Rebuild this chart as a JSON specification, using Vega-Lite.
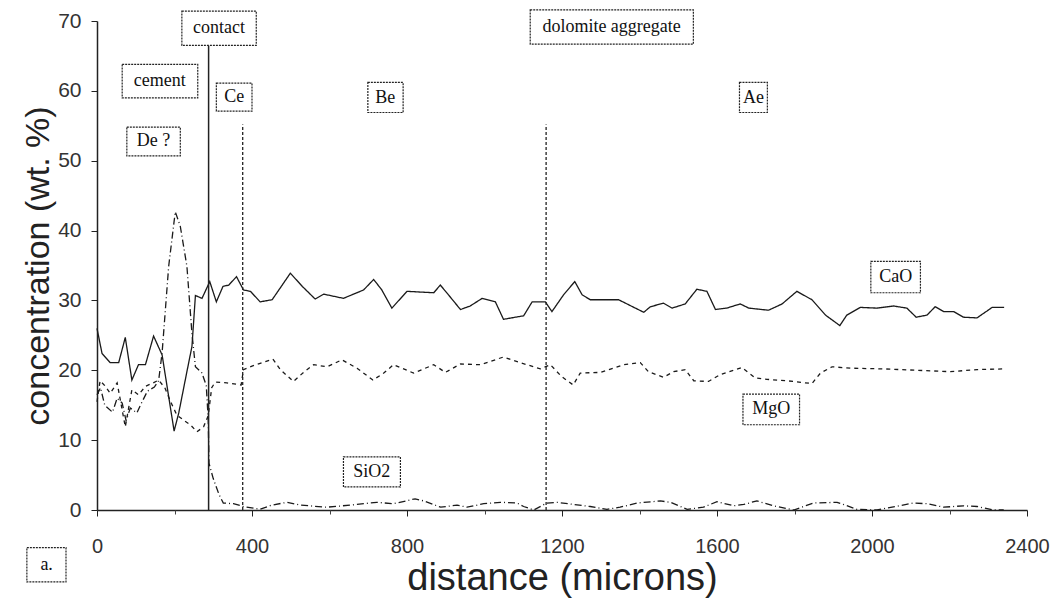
{
  "$schema": "https://vega.github.io/schema/vega-lite/v6.json",
  "width": 930,
  "height": 489,
  "autosize": {"type": "none"},
  "padding": {"left": 97, "top": 21, "right": 31, "bottom": 98},
  "background": "white",
  "config": {"view": {"stroke": null}, "font": "Liberation Sans"},
  "datasets": {
    "profiles": [
      {"oxide": "CaO", "d": 0, "c": 26.0}, {"oxide": "CaO", "d": 13, "c": 22.4}, {"oxide": "CaO", "d": 34, "c": 21.1}, {"oxide": "CaO", "d": 56, "c": 21.1}, {"oxide": "CaO", "d": 73, "c": 24.7}, {"oxide": "CaO", "d": 90, "c": 18.6}, {"oxide": "CaO", "d": 107, "c": 20.8}, {"oxide": "CaO", "d": 125, "c": 20.8}, {"oxide": "CaO", "d": 146, "c": 24.9}, {"oxide": "CaO", "d": 168, "c": 22.2}, {"oxide": "CaO", "d": 199, "c": 11.3}, {"oxide": "CaO", "d": 211, "c": 13.9}, {"oxide": "CaO", "d": 232, "c": 19.8}, {"oxide": "CaO", "d": 245, "c": 23.4}, {"oxide": "CaO", "d": 254, "c": 30.7}, {"oxide": "CaO", "d": 271, "c": 30.3}, {"oxide": "CaO", "d": 291, "c": 32.7}, {"oxide": "CaO", "d": 308, "c": 29.8}, {"oxide": "CaO", "d": 325, "c": 32.0}, {"oxide": "CaO", "d": 340, "c": 32.2}, {"oxide": "CaO", "d": 360, "c": 33.4}, {"oxide": "CaO", "d": 378, "c": 31.5}, {"oxide": "CaO", "d": 396, "c": 31.3}, {"oxide": "CaO", "d": 421, "c": 29.8}, {"oxide": "CaO", "d": 452, "c": 30.1}, {"oxide": "CaO", "d": 499, "c": 33.9}, {"oxide": "CaO", "d": 530, "c": 32.0}, {"oxide": "CaO", "d": 563, "c": 30.2}, {"oxide": "CaO", "d": 585, "c": 30.9}, {"oxide": "CaO", "d": 636, "c": 30.3}, {"oxide": "CaO", "d": 688, "c": 31.5}, {"oxide": "CaO", "d": 714, "c": 33.0}, {"oxide": "CaO", "d": 735, "c": 31.5}, {"oxide": "CaO", "d": 761, "c": 28.9}, {"oxide": "CaO", "d": 800, "c": 31.3}, {"oxide": "CaO", "d": 869, "c": 31.1}, {"oxide": "CaO", "d": 886, "c": 32.2}, {"oxide": "CaO", "d": 907, "c": 30.8}, {"oxide": "CaO", "d": 938, "c": 28.7}, {"oxide": "CaO", "d": 963, "c": 29.2}, {"oxide": "CaO", "d": 994, "c": 30.3}, {"oxide": "CaO", "d": 1028, "c": 29.8}, {"oxide": "CaO", "d": 1049, "c": 27.3}, {"oxide": "CaO", "d": 1101, "c": 27.8}, {"oxide": "CaO", "d": 1123, "c": 29.8}, {"oxide": "CaO", "d": 1157, "c": 29.8}, {"oxide": "CaO", "d": 1174, "c": 28.4}, {"oxide": "CaO", "d": 1204, "c": 30.8}, {"oxide": "CaO", "d": 1233, "c": 32.7}, {"oxide": "CaO", "d": 1252, "c": 30.8}, {"oxide": "CaO", "d": 1273, "c": 30.1}, {"oxide": "CaO", "d": 1346, "c": 30.1}, {"oxide": "CaO", "d": 1411, "c": 28.3}, {"oxide": "CaO", "d": 1428, "c": 29.1}, {"oxide": "CaO", "d": 1462, "c": 29.6}, {"oxide": "CaO", "d": 1484, "c": 28.9}, {"oxide": "CaO", "d": 1518, "c": 29.5}, {"oxide": "CaO", "d": 1548, "c": 31.6}, {"oxide": "CaO", "d": 1574, "c": 31.3}, {"oxide": "CaO", "d": 1596, "c": 28.7}, {"oxide": "CaO", "d": 1625, "c": 28.9}, {"oxide": "CaO", "d": 1660, "c": 29.5}, {"oxide": "CaO", "d": 1682, "c": 28.9}, {"oxide": "CaO", "d": 1733, "c": 28.6}, {"oxide": "CaO", "d": 1768, "c": 29.5}, {"oxide": "CaO", "d": 1806, "c": 31.3}, {"oxide": "CaO", "d": 1845, "c": 30.1}, {"oxide": "CaO", "d": 1880, "c": 27.9}, {"oxide": "CaO", "d": 1917, "c": 26.4}, {"oxide": "CaO", "d": 1935, "c": 27.9}, {"oxide": "CaO", "d": 1970, "c": 29.0}, {"oxide": "CaO", "d": 2013, "c": 28.9}, {"oxide": "CaO", "d": 2056, "c": 29.2}, {"oxide": "CaO", "d": 2090, "c": 28.9}, {"oxide": "CaO", "d": 2114, "c": 27.6}, {"oxide": "CaO", "d": 2142, "c": 27.9}, {"oxide": "CaO", "d": 2163, "c": 29.1}, {"oxide": "CaO", "d": 2185, "c": 28.4}, {"oxide": "CaO", "d": 2211, "c": 28.4}, {"oxide": "CaO", "d": 2236, "c": 27.6}, {"oxide": "CaO", "d": 2271, "c": 27.5}, {"oxide": "CaO", "d": 2310, "c": 29.0}, {"oxide": "CaO", "d": 2341, "c": 29.0},

      {"oxide": "MgO", "d": 0, "c": 15.5}, {"oxide": "MgO", "d": 8, "c": 18.5}, {"oxide": "MgO", "d": 20, "c": 17.8}, {"oxide": "MgO", "d": 34, "c": 16.7}, {"oxide": "MgO", "d": 52, "c": 18.2}, {"oxide": "MgO", "d": 73, "c": 11.9}, {"oxide": "MgO", "d": 90, "c": 17.2}, {"oxide": "MgO", "d": 107, "c": 16.5}, {"oxide": "MgO", "d": 125, "c": 17.7}, {"oxide": "MgO", "d": 145, "c": 18.2}, {"oxide": "MgO", "d": 159, "c": 18.6}, {"oxide": "MgO", "d": 175, "c": 17.5}, {"oxide": "MgO", "d": 190, "c": 15.5}, {"oxide": "MgO", "d": 206, "c": 13.6}, {"oxide": "MgO", "d": 225, "c": 12.8}, {"oxide": "MgO", "d": 241, "c": 12.2}, {"oxide": "MgO", "d": 258, "c": 11.2}, {"oxide": "MgO", "d": 275, "c": 11.9}, {"oxide": "MgO", "d": 287, "c": 13.5}, {"oxide": "MgO", "d": 296, "c": 17.5}, {"oxide": "MgO", "d": 305, "c": 18.3}, {"oxide": "MgO", "d": 335, "c": 18.2}, {"oxide": "MgO", "d": 372, "c": 17.9}, {"oxide": "MgO", "d": 378, "c": 20.1}, {"oxide": "MgO", "d": 400, "c": 20.6}, {"oxide": "MgO", "d": 421, "c": 21.0}, {"oxide": "MgO", "d": 454, "c": 21.6}, {"oxide": "MgO", "d": 473, "c": 20.1}, {"oxide": "MgO", "d": 507, "c": 18.4}, {"oxide": "MgO", "d": 535, "c": 19.8}, {"oxide": "MgO", "d": 559, "c": 20.8}, {"oxide": "MgO", "d": 594, "c": 20.5}, {"oxide": "MgO", "d": 632, "c": 21.5}, {"oxide": "MgO", "d": 671, "c": 20.3}, {"oxide": "MgO", "d": 712, "c": 18.6}, {"oxide": "MgO", "d": 740, "c": 19.6}, {"oxide": "MgO", "d": 765, "c": 20.8}, {"oxide": "MgO", "d": 817, "c": 19.6}, {"oxide": "MgO", "d": 869, "c": 20.8}, {"oxide": "MgO", "d": 899, "c": 19.7}, {"oxide": "MgO", "d": 938, "c": 20.9}, {"oxide": "MgO", "d": 989, "c": 20.8}, {"oxide": "MgO", "d": 1049, "c": 21.9}, {"oxide": "MgO", "d": 1092, "c": 21.1}, {"oxide": "MgO", "d": 1144, "c": 20.2}, {"oxide": "MgO", "d": 1170, "c": 20.8}, {"oxide": "MgO", "d": 1199, "c": 19.1}, {"oxide": "MgO", "d": 1229, "c": 17.9}, {"oxide": "MgO", "d": 1247, "c": 19.6}, {"oxide": "MgO", "d": 1299, "c": 19.7}, {"oxide": "MgO", "d": 1359, "c": 20.8}, {"oxide": "MgO", "d": 1402, "c": 21.1}, {"oxide": "MgO", "d": 1423, "c": 19.8}, {"oxide": "MgO", "d": 1462, "c": 19.0}, {"oxide": "MgO", "d": 1488, "c": 19.8}, {"oxide": "MgO", "d": 1518, "c": 20.1}, {"oxide": "MgO", "d": 1540, "c": 18.5}, {"oxide": "MgO", "d": 1578, "c": 18.4}, {"oxide": "MgO", "d": 1609, "c": 19.4}, {"oxide": "MgO", "d": 1664, "c": 20.4}, {"oxide": "MgO", "d": 1699, "c": 18.9}, {"oxide": "MgO", "d": 1729, "c": 18.7}, {"oxide": "MgO", "d": 1781, "c": 18.5}, {"oxide": "MgO", "d": 1845, "c": 18.1}, {"oxide": "MgO", "d": 1867, "c": 19.6}, {"oxide": "MgO", "d": 1897, "c": 20.5}, {"oxide": "MgO", "d": 1944, "c": 20.3}, {"oxide": "MgO", "d": 2030, "c": 20.2}, {"oxide": "MgO", "d": 2116, "c": 20.0}, {"oxide": "MgO", "d": 2202, "c": 19.8}, {"oxide": "MgO", "d": 2271, "c": 20.1}, {"oxide": "MgO", "d": 2340, "c": 20.2},

      {"oxide": "SiO2", "d": 0, "c": 16.5}, {"oxide": "SiO2", "d": 9, "c": 17.5}, {"oxide": "SiO2", "d": 20, "c": 15.0}, {"oxide": "SiO2", "d": 40, "c": 14.0}, {"oxide": "SiO2", "d": 52, "c": 16.0}, {"oxide": "SiO2", "d": 65, "c": 15.3}, {"oxide": "SiO2", "d": 75, "c": 12.8}, {"oxide": "SiO2", "d": 86, "c": 14.6}, {"oxide": "SiO2", "d": 103, "c": 13.9}, {"oxide": "SiO2", "d": 112, "c": 15.0}, {"oxide": "SiO2", "d": 130, "c": 17.0}, {"oxide": "SiO2", "d": 148, "c": 17.6}, {"oxide": "SiO2", "d": 159, "c": 18.5}, {"oxide": "SiO2", "d": 168, "c": 22.5}, {"oxide": "SiO2", "d": 185, "c": 34.9}, {"oxide": "SiO2", "d": 202, "c": 42.7}, {"oxide": "SiO2", "d": 215, "c": 40.6}, {"oxide": "SiO2", "d": 232, "c": 34.9}, {"oxide": "SiO2", "d": 245, "c": 25.3}, {"oxide": "SiO2", "d": 254, "c": 20.5}, {"oxide": "SiO2", "d": 271, "c": 19.6}, {"oxide": "SiO2", "d": 282, "c": 17.8}, {"oxide": "SiO2", "d": 287, "c": 13.0}, {"oxide": "SiO2", "d": 289, "c": 6.7}, {"oxide": "SiO2", "d": 300, "c": 4.5}, {"oxide": "SiO2", "d": 315, "c": 2.2}, {"oxide": "SiO2", "d": 326, "c": 1.0}, {"oxide": "SiO2", "d": 352, "c": 0.9}, {"oxide": "SiO2", "d": 378, "c": 0.5}, {"oxide": "SiO2", "d": 421, "c": 0.1}, {"oxide": "SiO2", "d": 451, "c": 0.7}, {"oxide": "SiO2", "d": 490, "c": 1.1}, {"oxide": "SiO2", "d": 525, "c": 0.7}, {"oxide": "SiO2", "d": 593, "c": 0.4}, {"oxide": "SiO2", "d": 654, "c": 0.7}, {"oxide": "SiO2", "d": 722, "c": 1.1}, {"oxide": "SiO2", "d": 765, "c": 0.9}, {"oxide": "SiO2", "d": 821, "c": 1.6}, {"oxide": "SiO2", "d": 843, "c": 1.3}, {"oxide": "SiO2", "d": 887, "c": 0.4}, {"oxide": "SiO2", "d": 929, "c": 0.7}, {"oxide": "SiO2", "d": 955, "c": 0.4}, {"oxide": "SiO2", "d": 998, "c": 0.9}, {"oxide": "SiO2", "d": 1041, "c": 1.1}, {"oxide": "SiO2", "d": 1084, "c": 1.0}, {"oxide": "SiO2", "d": 1101, "c": 0.5}, {"oxide": "SiO2", "d": 1127, "c": 0.0}, {"oxide": "SiO2", "d": 1161, "c": 1.0}, {"oxide": "SiO2", "d": 1187, "c": 1.1}, {"oxide": "SiO2", "d": 1230, "c": 0.8}, {"oxide": "SiO2", "d": 1273, "c": 0.5}, {"oxide": "SiO2", "d": 1316, "c": 0.1}, {"oxide": "SiO2", "d": 1350, "c": 0.4}, {"oxide": "SiO2", "d": 1394, "c": 1.0}, {"oxide": "SiO2", "d": 1454, "c": 1.3}, {"oxide": "SiO2", "d": 1480, "c": 1.1}, {"oxide": "SiO2", "d": 1523, "c": 0.1}, {"oxide": "SiO2", "d": 1565, "c": 0.4}, {"oxide": "SiO2", "d": 1600, "c": 1.2}, {"oxide": "SiO2", "d": 1643, "c": 0.6}, {"oxide": "SiO2", "d": 1669, "c": 0.8}, {"oxide": "SiO2", "d": 1703, "c": 1.3}, {"oxide": "SiO2", "d": 1746, "c": 0.6}, {"oxide": "SiO2", "d": 1798, "c": 0.0}, {"oxide": "SiO2", "d": 1849, "c": 1.0}, {"oxide": "SiO2", "d": 1910, "c": 1.1}, {"oxide": "SiO2", "d": 1961, "c": 0.1}, {"oxide": "SiO2", "d": 2013, "c": 0.0}, {"oxide": "SiO2", "d": 2107, "c": 1.0}, {"oxide": "SiO2", "d": 2142, "c": 0.9}, {"oxide": "SiO2", "d": 2185, "c": 0.4}, {"oxide": "SiO2", "d": 2236, "c": 0.6}, {"oxide": "SiO2", "d": 2271, "c": 0.5}, {"oxide": "SiO2", "d": 2314, "c": 0.0}, {"oxide": "SiO2", "d": 2340, "c": 0.0}
    ],
    "contact": [{"name": "contact", "d": 288, "lo": 0, "hi": 66.5}],
    "zones": [
      {"name": "Ce/Be", "d": 376, "lo": 0, "hi": 55.2},
      {"name": "Be/Ae", "d": 1159, "lo": 0, "hi": 55.2}
    ],
    "labels": [
      {"label": "contact", "xc": 315, "yc": 69.0, "x1": 219, "x2": 411, "y1": 71.4, "y2": 66.5},
      {"label": "cement", "xc": 162, "yc": 61.4, "x1": 65, "x2": 260, "y1": 63.8, "y2": 59.0},
      {"label": "Ce", "xc": 354, "yc": 59.1, "x1": 308, "x2": 400, "y1": 61.1, "y2": 57.1},
      {"label": "De ?", "xc": 146, "yc": 52.8, "x1": 77, "x2": 215, "y1": 54.8, "y2": 50.7},
      {"label": "Be", "xc": 744, "yc": 59.0, "x1": 699, "x2": 790, "y1": 61.2, "y2": 56.9},
      {"label": "dolomite aggregate", "xc": 1328, "yc": 69.1, "x1": 1118, "x2": 1539, "y1": 71.6, "y2": 66.7},
      {"label": "Ae", "xc": 1694, "yc": 59.0, "x1": 1658, "x2": 1730, "y1": 61.2, "y2": 56.9},
      {"label": "CaO", "xc": 2061, "yc": 33.4, "x1": 1997, "x2": 2125, "y1": 35.6, "y2": 31.1},
      {"label": "MgO", "xc": 1740, "yc": 14.4, "x1": 1667, "x2": 1813, "y1": 16.6, "y2": 12.2},
      {"label": "SiO2", "xc": 709, "yc": 5.4, "x1": 636, "x2": 783, "y1": 7.6, "y2": 3.3},
      {"label": "a.", "xc": -130, "yc": -7.9, "x1": -181, "x2": -80, "y1": -5.4, "y2": -10.3}
    ],
    "minor": [{"d": 200}, {"d": 600}, {"d": 1000}, {"d": 1400}, {"d": 1800}, {"d": 2200}]
  },
  "resolve": {"axis": {"x": "independent", "y": "independent"}},
  "layer": [
    {
      "data": {"name": "profiles"},
      "mark": {"type": "line", "strokeWidth": 1.3, "color": "#1a1a1a", "interpolate": "linear"},
      "encoding": {
        "x": {"field": "d", "type": "quantitative",
          "scale": {"domain": [0, 2400], "nice": false, "zero": false},
          "axis": {"values": [0, 400, 800, 1200, 1600, 2000, 2400], "format": "d", "title": "distance (microns)",
            "titleFontSize": 38, "titleFontWeight": "normal", "titleColor": "#222", "titlePadding": 3,
            "labelFontSize": 20, "labelColor": "#333", "labelPadding": 20, "tickSize": 6, "tickColor": "#222",
            "domainColor": "#222", "domainWidth": 1.5, "grid": false, "labelFlush": false}},
        "y": {"field": "c", "type": "quantitative",
          "scale": {"domain": [0, 70], "nice": false},
          "axis": {"values": [0, 10, 20, 30, 40, 50, 60, 70], "title": "concentration (wt. %)",
            "titleFontSize": 34, "titleFontWeight": "normal", "titleColor": "#222", "titlePadding": 2,
            "labelFontSize": 21, "labelColor": "#333", "labelPadding": 10, "tickSize": 6, "tickColor": "#222",
            "domainColor": "#222", "domainWidth": 1.5, "grid": false}},
        "strokeDash": {"field": "oxide", "type": "nominal",
          "scale": {"domain": ["CaO", "MgO", "SiO2"], "range": [[1, 0], [4, 4], [7, 3, 1, 3]]},
          "legend": null},
        "detail": {"field": "oxide"}
      }
    },
    {
      "data": {"name": "contact"},
      "mark": {"type": "rule", "strokeWidth": 1.5, "color": "#222", "clip": false},
      "encoding": {
        "x": {"field": "d", "type": "quantitative", "axis": null},
        "y": {"field": "lo", "type": "quantitative", "axis": null},
        "y2": {"field": "hi"}
      }
    },
    {
      "data": {"name": "zones"},
      "mark": {"type": "rule", "strokeWidth": 1.3, "color": "#222", "strokeDash": [3, 2]},
      "encoding": {
        "x": {"field": "d", "type": "quantitative", "axis": null},
        "y": {"field": "lo", "type": "quantitative", "axis": null},
        "y2": {"field": "hi"}
      }
    },
    {
      "data": {"name": "labels"},
      "mark": {"type": "rect", "fill": "white", "stroke": "#222", "strokeWidth": 1.2, "strokeDash": [2, 1], "clip": false},
      "encoding": {
        "x": {"field": "x1", "type": "quantitative", "axis": null},
        "x2": {"field": "x2"},
        "y": {"field": "y1", "type": "quantitative", "axis": null},
        "y2": {"field": "y2"}
      }
    },
    {
      "data": {"name": "labels"},
      "mark": {"type": "text", "font": "Liberation Serif", "fontSize": 18, "color": "#111", "baseline": "middle", "align": "center", "clip": false},
      "encoding": {
        "x": {"field": "xc", "type": "quantitative", "axis": null},
        "y": {"field": "yc", "type": "quantitative", "axis": null},
        "text": {"field": "label"}
      }
    },
    {
      "data": {"name": "minor"},
      "mark": {"type": "point", "opacity": 0},
      "encoding": {
        "x": {"field": "d", "type": "quantitative",
          "axis": {"values": [200, 600, 1000, 1400, 1800, 2200], "labels": false, "domain": false, "title": null,
            "tickSize": 4, "tickColor": "#444", "grid": false, "orient": "bottom"}}
      }
    }
  ]
}
